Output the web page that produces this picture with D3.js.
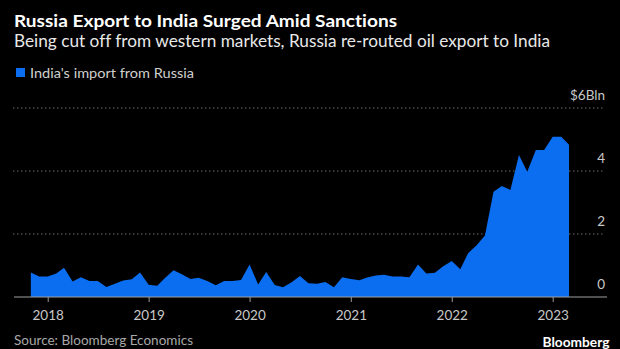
<!DOCTYPE html>
<html>
<head>
<meta charset="utf-8">
<script src="https://cdn.jsdelivr.net/npm/d3@7"></script>
<style>
  html, body { margin: 0; padding: 0; background: #000; }
  svg { display: block; }
  text { font-family: Lato, "Open Sans", sans-serif; font-variant-ligatures: none; font-feature-settings: "liga" 0, "clig" 0; }
</style>
</head>
<body>
<svg id="chart" width="620" height="349"></svg>
<script>
// ---- Data ----
const months = [
  "2017-11","2017-12",
  "2018-01","2018-02","2018-03","2018-04","2018-05","2018-06","2018-07","2018-08","2018-09","2018-10","2018-11","2018-12",
  "2019-01","2019-02","2019-03","2019-04","2019-05","2019-06","2019-07","2019-08","2019-09","2019-10","2019-11","2019-12",
  "2020-01","2020-02","2020-03","2020-04","2020-05","2020-06","2020-07","2020-08","2020-09","2020-10","2020-11","2020-12",
  "2021-01","2021-02","2021-03","2021-04","2021-05","2021-06","2021-07","2021-08","2021-09","2021-10","2021-11","2021-12",
  "2022-01","2022-02","2022-03","2022-04","2022-05","2022-06","2022-07","2022-08","2022-09","2022-10","2022-11","2022-12",
  "2023-01","2023-02","2023-03"
];
const importFromRussia = [
  0.78,0.65,
  0.65,0.75,0.93,0.49,0.63,0.51,0.51,0.32,0.42,0.52,0.56,0.78,
  0.39,0.36,0.60,0.85,0.72,0.57,0.61,0.51,0.37,0.51,0.51,0.54,
  1.03,0.40,0.79,0.38,0.31,0.47,0.67,0.44,0.42,0.48,0.31,0.63,
  0.57,0.53,0.62,0.68,0.71,0.65,0.65,0.63,1.03,0.75,0.77,0.98,
  1.14,0.88,1.39,1.64,1.95,3.34,3.52,3.40,4.51,3.98,4.67,4.67,
  5.09,5.09,4.83
];
const yTicks = [0, 2, 4, 6];
const yTickLabels = ["0", "2", "4", "$6Bln"];
const xTickYears = [2018, 2019, 2020, 2021, 2022, 2023];

const title = "Russia Export to India Surged Amid Sanctions";
const subtitle = "Being cut off from western markets, Russia re-routed oil export to India";
const legendLabel = "India's import from Russia";
const sourceText = "Source: Bloomberg Economics";

// ---- Layout ----
const blue = "#0b6ef0";
const svg = d3.select("#chart");
const parse = d3.timeParse("%Y-%m");
const data = months.map((m, i) => ({ date: parse(m), value: importFromRussia[i] }));

const x = d3.scaleTime()
  .domain([new Date(2018, 0, 1), new Date(2023, 0, 1)])
  .range([47.7, 552.7]);
const y = d3.scaleLinear().domain([0, 6]).range([297, 108]);

const plotLeft = 13, plotRight = 605;

// gridlines (dotted)
svg.append("g")
  .selectAll("line")
  .data(yTicks.filter(d => d > 0))
  .join("line")
  .attr("x1", plotLeft).attr("x2", plotRight)
  .attr("y1", d => y(d)).attr("y2", d => y(d))
  .attr("stroke", "#6a6a6a")
  .attr("stroke-width", 1)
  .attr("stroke-dasharray", "1.5,2.5");

// y labels
svg.append("g")
  .selectAll("text")
  .data(yTicks)
  .join("text")
  .attr("x", plotRight)
  .attr("y", d => y(d) - 8.5)
  .attr("text-anchor", "end")
  .attr("fill", "#c8c8c8")
  .attr("font-size", 13.5)
  .text((d, i) => yTickLabels[i]);

// area
const area = d3.area()
  .x(d => x(d.date))
  .y0(y(0))
  .y1(d => y(d.value))
  .curve(d3.curveLinear);

svg.append("path")
  .datum(data)
  .attr("d", area)
  .attr("fill", blue);

// x axis
const xAxis = d3.axisBottom(x)
  .tickValues(xTickYears.map(yr => new Date(yr, 0, 1)))
  .tickFormat(d3.timeFormat("%Y"))
  .tickSize(5)
  .tickSizeOuter(0);

const gx = svg.append("g")
  .attr("transform", `translate(0,${y(0)})`)
  .call(xAxis);
gx.select(".domain").remove();
gx.selectAll(".tick line").attr("stroke", "#9a9a9a");
gx.selectAll(".tick text")
  .attr("fill", "#c8c8c8")
  .attr("font-size", 13.5)
  .attr("font-family", "Lato, 'Open Sans', sans-serif")
  .attr("dy", null)
  .attr("y", 23);

// baseline
svg.append("line")
  .attr("x1", plotLeft + 1).attr("x2", plotRight + 2)
  .attr("y1", y(0)).attr("y2", y(0))
  .attr("stroke", "#a0a0a0")
  .attr("stroke-width", 1.2);

// ---- Texts ----
function fitText(sel, width) {
  sel.attr("textLength", width).attr("lengthAdjust", "spacingAndGlyphs");
}

svg.append("text")
  .attr("x", 14).attr("y", 26.5)
  .attr("fill", "#ffffff")
  .attr("font-size", 17)
  .attr("font-weight", 700)
  .text(title)
  .call(fitText, 383);

svg.append("text")
  .attr("x", 14).attr("y", 46.5)
  .attr("fill", "#e8e8e8")
  .attr("font-size", 17)
  .text(subtitle)
  .call(fitText, 536);

// legend
svg.append("rect")
  .attr("x", 16).attr("y", 68)
  .attr("width", 9).attr("height", 9)
  .attr("fill", blue);

svg.append("text")
  .attr("x", 30).attr("y", 77.5)
  .attr("fill", "#d0d0d0")
  .attr("font-size", 13.5)
  .text(legendLabel)
  .call(fitText, 164);

// source
svg.append("text")
  .attr("x", 14).attr("y", 345)
  .attr("fill", "#a8a8a8")
  .attr("font-size", 13.5)
  .text(sourceText)
  .call(fitText, 179);

svg.append("text")
  .attr("x", 609.5).attr("y", 346.5)
  .attr("text-anchor", "end")
  .attr("fill", "#ffffff")
  .attr("font-size", 14)
  .attr("font-weight", 700)
  .text("Bloomberg")
  .call(fitText, 67);
</script>
</body>
</html>
